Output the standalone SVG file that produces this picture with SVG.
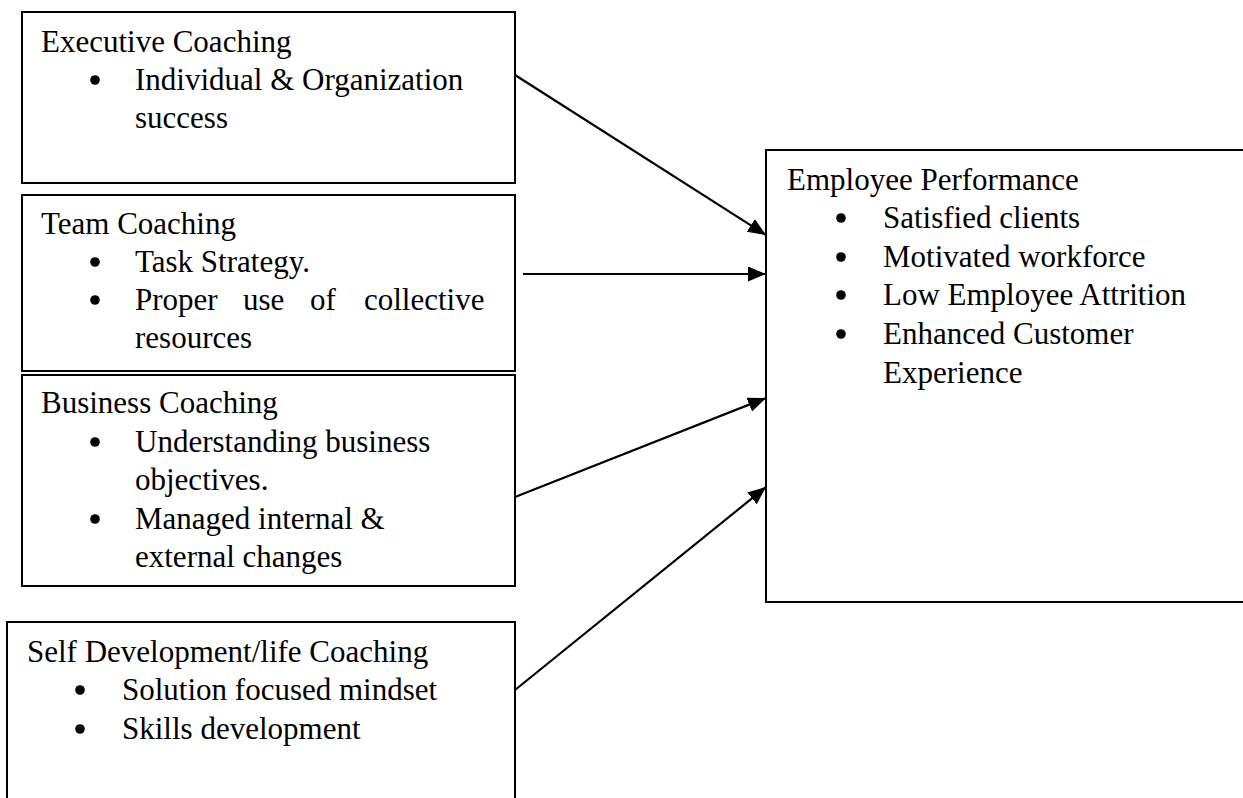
<svg xmlns="http://www.w3.org/2000/svg" width="1243" height="798" viewBox="0 0 1243 798">
  <style>
    .box { fill: #fff; stroke: #000; stroke-width: 2; }
    .t { font-family: "Liberation Serif", "Times New Roman", serif; font-size: 31px; fill: #000; }
    .dot { fill: #000; }
    .link { stroke: #000; stroke-width: 2.2; fill: none; marker-end: url(#head); }
  </style>
  <defs>
    <marker id="head" markerUnits="userSpaceOnUse" markerWidth="20" markerHeight="16" refX="18" refY="7.5" orient="auto">
      <path d="M0,0 L18,7.5 L0,15 z" fill="#000"/>
    </marker>
  </defs>
  <rect width="1243" height="798" fill="#fff"/>

  <g id="executive-coaching">
    <rect class="box" x="22" y="12" width="493" height="171"/>
    <text class="t" x="41" y="52">Executive Coaching</text>
    <circle class="dot" cx="95" cy="80" r="4.8"/>
    <text class="t" x="135" y="90">Individual &amp; Organization</text>
    <text class="t" x="135" y="128">success</text>
  </g>

  <g id="team-coaching">
    <rect class="box" x="22" y="195" width="493" height="176"/>
    <text class="t" x="41" y="234">Team Coaching</text>
    <circle class="dot" cx="95" cy="262" r="4.8"/>
    <text class="t" x="135" y="272">Task Strategy.</text>
    <circle class="dot" cx="95" cy="300" r="4.8"/>
    <text class="t" y="310"><tspan x="135">Proper</tspan><tspan x="243">use</tspan><tspan x="310">of</tspan><tspan x="364">collective</tspan></text>
    <text class="t" x="135" y="348">resources</text>
  </g>

  <g id="business-coaching">
    <rect class="box" x="22" y="375" width="493" height="211"/>
    <text class="t" x="41" y="413">Business Coaching</text>
    <circle class="dot" cx="95" cy="442" r="4.8"/>
    <text class="t" x="135" y="452">Understanding business</text>
    <text class="t" x="135" y="490">objectives.</text>
    <circle class="dot" cx="95" cy="519" r="4.8"/>
    <text class="t" x="135" y="529">Managed internal &amp;</text>
    <text class="t" x="135" y="567">external changes</text>
  </g>

  <g id="self-development-coaching">
    <rect class="box" x="7" y="622" width="508" height="200"/>
    <text class="t" x="27" y="662">Self Development/life Coaching</text>
    <circle class="dot" cx="80" cy="690" r="4.8"/>
    <text class="t" x="122" y="700">Solution focused mindset</text>
    <circle class="dot" cx="80" cy="729" r="4.8"/>
    <text class="t" x="122" y="739">Skills development</text>
  </g>

  <g id="employee-performance">
    <rect class="box" x="766" y="150" width="500" height="452"/>
    <text class="t" x="787" y="190">Employee Performance</text>
    <circle class="dot" cx="841" cy="218" r="4.8"/>
    <text class="t" x="883" y="228">Satisfied clients</text>
    <circle class="dot" cx="841" cy="257" r="4.8"/>
    <text class="t" x="883" y="267">Motivated workforce</text>
    <circle class="dot" cx="841" cy="295" r="4.8"/>
    <text class="t" x="883" y="305">Low Employee Attrition</text>
    <circle class="dot" cx="841" cy="334" r="4.8"/>
    <text class="t" x="883" y="344">Enhanced Customer</text>
    <text class="t" x="883" y="383">Experience</text>
  </g>

  <g id="connectors">
    <line class="link" x1="515" y1="75" x2="766" y2="235"/>
    <line class="link" x1="523" y1="274" x2="766" y2="274"/>
    <line class="link" x1="515" y1="497" x2="766" y2="398"/>
    <line class="link" x1="515" y1="690" x2="766" y2="487"/>
  </g>
</svg>
